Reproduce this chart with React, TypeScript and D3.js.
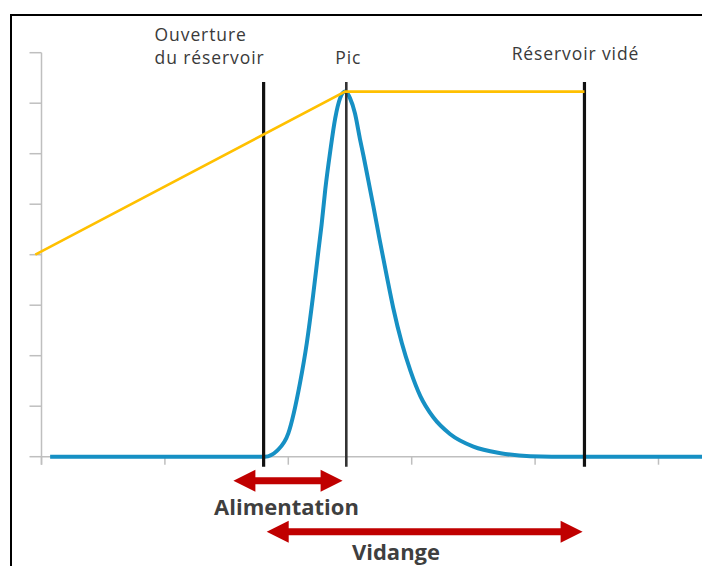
import * as d3 from 'd3';
import React, { useEffect, useRef } from 'react';

// time axis ticks (arbitrary units) and level ticks
const xTicks = [0, 10, 20, 30, 40, 50];
const yTicks = [0, 1, 2, 3, 4, 5, 6, 7, 8];

// hydrograph (blue)
const flowX = [0.7, 18.1, 19.1, 20.0, 20.95, 21.5, 22.0, 22.45, 22.7, 23.0, 23.4, 23.8, 24.2, 24.6, 25.0, 25.4, 25.8, 26.1, 26.5, 26.9, 27.4, 28.0, 28.5, 29.2, 29.9, 30.7, 31.75, 33.1, 35.0, 37.2, 39.6, 43.1, 53.6];
const flowY = [0, 0, 0.12, 0.46, 1.46, 2.25, 3.17, 4.1, 4.6, 5.3, 6.05, 6.7, 7.1, 7.23, 7.1, 6.8, 6.3, 5.95, 5.45, 4.95, 4.3, 3.55, 2.95, 2.25, 1.7, 1.2, 0.78, 0.45, 0.2, 0.07, 0.01, 0, 0];

// reservoir level (orange)
const levelX = [-0.5, 24.6, 44];
const levelY = [4, 7.23, 7.23];

// events
const eventX = [18, 24.7, 44];
const eventTop = 7.42;

// arrows (start, end) in time units
const alimentation = [15.55, 24.4];
const vidange = [18.25, 43.85];

export default function App() {
	const ref = useRef<SVGSVGElement>(null);
	const width = 702;
	const height = 566;

	useEffect(() => {
		const svg = d3.select(ref.current);
		svg.selectAll('*').remove();

		const x = d3.scaleLinear().domain([0, 50]).range([41.5, 658.5]);
		const y = d3.scaleLinear().domain([0, 8]).range([456.7, 52.7]);

		svg.append('rect').attr('width', width).attr('height', height).attr('fill', '#fff');

		// frame
		svg.append('rect')
			.attr('x', 11)
			.attr('y', 15)
			.attr('width', 900)
			.attr('height', 900)
			.attr('fill', 'none')
			.attr('stroke', '#000')
			.attr('stroke-width', 2);

		const grey = '#bfbfbf';
		// y axis
		svg.append('line')
			.attr('x1', x(0)).attr('x2', x(0))
			.attr('y1', y(8)).attr('y2', y(0) + 8)
			.attr('stroke', grey).attr('stroke-width', 1.5);
		svg.append('g')
			.selectAll('line')
			.data(yTicks)
			.join('line')
			.attr('x1', x(0) - 12).attr('x2', x(0))
			.attr('y1', d => y(d)).attr('y2', d => y(d))
			.attr('stroke', grey).attr('stroke-width', 1.5);
		// x axis
		svg.append('line')
			.attr('x1', x(0)).attr('x2', width)
			.attr('y1', y(0)).attr('y2', y(0))
			.attr('stroke', grey).attr('stroke-width', 1.5);
		svg.append('g')
			.selectAll('line')
			.data(xTicks)
			.join('line')
			.attr('x1', d => x(d)).attr('x2', d => x(d))
			.attr('y1', y(0)).attr('y2', y(0) + 8)
			.attr('stroke', grey).attr('stroke-width', 1.5);

		// blue flow
		const flow = d3.zip(flowX, flowY);
		svg.append('path')
			.datum(flow)
			.attr('fill', 'none')
			.attr('stroke', '#1690c4')
			.attr('stroke-width', 4)
			.attr('stroke-linejoin', 'round')
			.attr('d', d3.line<number[]>().x(d => x(d[0])).y(d => y(d[1])).curve(d3.curveMonotoneX));

		// event lines
		svg.append('g')
			.selectAll('line')
			.data(eventX)
			.join('line')
			.attr('x1', d => x(d)).attr('x2', d => x(d))
			.attr('y1', y(eventTop)).attr('y2', y(0) + 10)
			.attr('stroke', (d, i) => (i === 1 ? '#333' : '#111'))
			.attr('stroke-width', (d, i) => (i === 1 ? 2.6 : 3.2));

		// orange level
		svg.append('path')
			.datum(d3.zip(levelX, levelY))
			.attr('fill', 'none')
			.attr('stroke', '#ffc000')
			.attr('stroke-width', 2.6)
			.attr('d', d3.line<number[]>().x(d => x(d[0])).y(d => y(d[1])));

		// labels
		const labelFont = "'Open Sans', sans-serif";
		const lbl = svg.append('g')
			.attr('font-family', labelFont)
			.attr('font-size', 17.5)
			.attr('letter-spacing', 0.9)
			.attr('fill', '#3a3a3a');
		lbl.append('text').attr('x', x(eventX[0]) - 109).attr('y', 41).text('Ouverture');
		lbl.append('text').attr('x', x(eventX[0]) - 109).attr('y', 63.5).text('du réservoir');
		lbl.append('text').attr('x', x(eventX[1]) + 2).attr('y', 63.5).attr('text-anchor', 'middle').text('Pic');
		lbl.append('text').attr('x', x(eventX[2]) - 9).attr('y', 60).attr('text-anchor', 'middle').text('Réservoir vidé');

		// double arrows
		const arrow = (a: number, b: number, cy: number) => {
			const x0 = x(a);
			const x1 = x(b);
			const hl = 22;
			const hh = 11;
			const sh = 3.5;
			return `M${x0},${cy} L${x0 + hl},${cy - hh} L${x0 + hl},${cy - sh} L${x1 - hl},${cy - sh} L${x1 - hl},${cy - hh} L${x1},${cy} L${x1 - hl},${cy + hh} L${x1 - hl},${cy + sh} L${x0 + hl},${cy + sh} L${x0 + hl},${cy + hh} Z`;
		};
		svg.append('path').attr('d', arrow(alimentation[0], alimentation[1], 480.7)).attr('fill', '#c00000');
		svg.append('path').attr('d', arrow(vidange[0], vidange[1], 531.7)).attr('fill', '#c00000');

		const big = svg.append('g')
			.attr('font-family', labelFont)
			.attr('font-size', 22)
			.attr('font-weight', 'bold')
			.attr('fill', '#3f3f3f')
			.attr('text-anchor', 'middle');
		big.append('text').attr('x', 286.5).attr('y', 515).text('Alimentation');
		big.append('text').attr('x', 396).attr('y', 560).text('Vidange');
	}, []);

	return (
		<svg
			ref={ref}
			width={width}
			height={height}
			style={{ position: 'absolute', left: 0, top: 0, display: 'block' }}
		/>
	);
}
